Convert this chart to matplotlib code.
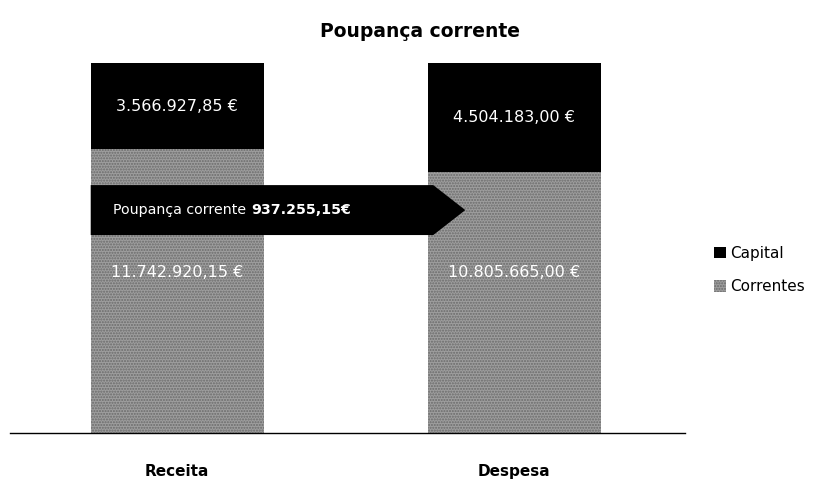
import matplotlib
matplotlib.use("Agg")
import matplotlib.pyplot as plt
from matplotlib.patches import Polygon, Patch

categories = ["Receita", "Despesa"]
correntes = [11742920.15, 10805665.00]
capital = [3566927.85, 4504183.00]
labels_correntes = ["11.742.920,15 €", "10.805.665,00 €"]
labels_capital = ["3.566.927,85 €", "4.504.183,00 €"]
poupanca_label = "937.255,15€"

fig = plt.figure(figsize=(8.3, 4.86), dpi=100)
ax = fig.add_axes([10/830, 53/486, 675/830, 370/486])

x = range(len(categories))
width = 0.513
gray = "#9e9e9e"
b1 = ax.bar(x, correntes, width, color=gray, hatch="......", edgecolor="#6a6a6a", linewidth=0)
b2 = ax.bar(x, capital, width, bottom=correntes, color="black", linewidth=0)

total = max(c + k for c, k in zip(correntes, capital))
ax.set_xlim(-0.496, 1.507)
ax.set_ylim(0, total)

for i in x:
    ax.text(i, correntes[i] + capital[i] / 2, labels_capital[i], color="white",
            ha="center", va="center", fontsize=11.5)
    ax.text(i, total * 0.435, labels_correntes[i], color="white",
            ha="center", va="center", fontsize=11.5)

# Arrow annotation
y_hi = total * 0.670
y_lo = total * 0.535
y_mid = (y_hi + y_lo) / 2
x0 = -width / 2
x1 = 0.760
x2 = 0.855
arrow = Polygon([[x0, y_lo], [x0, y_hi], [x1, y_hi], [x2, y_mid], [x1, y_lo]],
                closed=True, facecolor="black", edgecolor="none", zorder=3)
ax.add_patch(arrow)
t1 = ax.text(x0 + 0.067, y_mid, "Poupança corrente ", color="white", fontsize=10.2,
             ha="left", va="center", zorder=4)
fig.canvas.draw()
bb = t1.get_window_extent()
inv = ax.transData.inverted()
xe = inv.transform((bb.x1, bb.y0))[0]
ax.text(xe, y_mid, poupanca_label, color="white", fontsize=10.2, fontweight="bold",
        ha="left", va="center", zorder=4)

for s in ["top", "right", "left"]:
    ax.spines[s].set_visible(False)
ax.spines["bottom"].set_linewidth(1.0)
ax.set_yticks([])
ax.set_xticks(list(x))
ax.set_xticklabels(categories, fontsize=11, fontweight="bold")
ax.tick_params(axis="x", length=0, pad=22)

fig.text(0.506, 0.936, "Poupança corrente", ha="center", va="center",
         fontsize=13.5, fontweight="bold")

handles = [Patch(facecolor="black", label="Capital"),
           Patch(facecolor=gray, hatch="......", edgecolor="#6a6a6a", linewidth=0, label="Correntes")]
fig.legend(handles=handles, loc="center left", bbox_to_anchor=(700/830, 1 - 270/486),
           frameon=False, fontsize=11, handlelength=0.8, handleheight=0.8,
           handletextpad=0.3, labelspacing=1.2)

fig.savefig("out.png", dpi=100)
